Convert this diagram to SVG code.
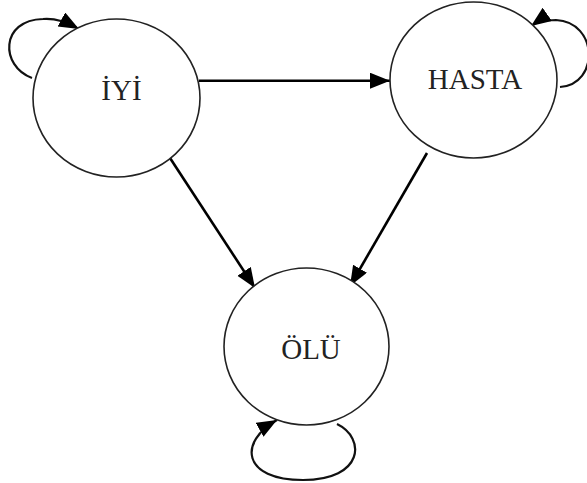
<svg xmlns="http://www.w3.org/2000/svg" width="587" height="483" viewBox="0 0 587 483">
  <style>
    .state { fill: #ffffff; stroke: #222222; stroke-width: 1.6; }
    .label { font-family: "Liberation Serif", "Times New Roman", serif; font-size: 29px; fill: #222222; text-anchor: middle; }
    .edge { fill: none; stroke: #000000; stroke-width: 2.6; marker-end: url(#head); }
    .loop { fill: none; stroke: #111111; stroke-width: 2.2; marker-end: url(#head); }
  </style>
  <defs>
    <marker id="head" markerUnits="userSpaceOnUse" markerWidth="22" markerHeight="18" refX="20" refY="8" orient="auto">
      <path d="M0,0 L20,8 L0,16 Z" fill="#000000"/>
    </marker>
  </defs>

  <rect width="587" height="483" fill="#ffffff"/>

  <g id="connectors">
    <!-- İYİ -> HASTA -->
    <path class="edge" d="M199,80.7 L390,80.7"/>
    <!-- İYİ -> ÖLÜ -->
    <path class="edge" d="M170,158 L255,288"/>
    <!-- HASTA -> ÖLÜ -->
    <path class="edge" d="M427,153 L350,286"/>
    <!-- self loops -->
    <path class="loop" d="M32,78 C0,66 0,20 43,19 C56,18 66,22 79,29"/>
    <path class="loop" d="M560,87 C600,84 598,22 556,20 C546,20 538,21 531,26"/>
    <path class="loop" d="M337,424 C366,438 364,480 303,480 C242,480 238,442 277,420"/>
  </g>

  <g id="node-iyi">
    <ellipse class="state" cx="116.5" cy="98" rx="83.5" ry="79"/>
    <text class="label" x="121.5" y="100">İYİ</text>
  </g>

  <g id="node-hasta">
    <ellipse class="state" cx="473.5" cy="80" rx="83.5" ry="78"/>
    <text class="label" x="475" y="89">HASTA</text>
  </g>

  <g id="node-olu">
    <ellipse class="state" cx="306.5" cy="346.5" rx="82.5" ry="78.5"/>
    <text class="label" x="311" y="359">ÖLÜ</text>
  </g>
</svg>
